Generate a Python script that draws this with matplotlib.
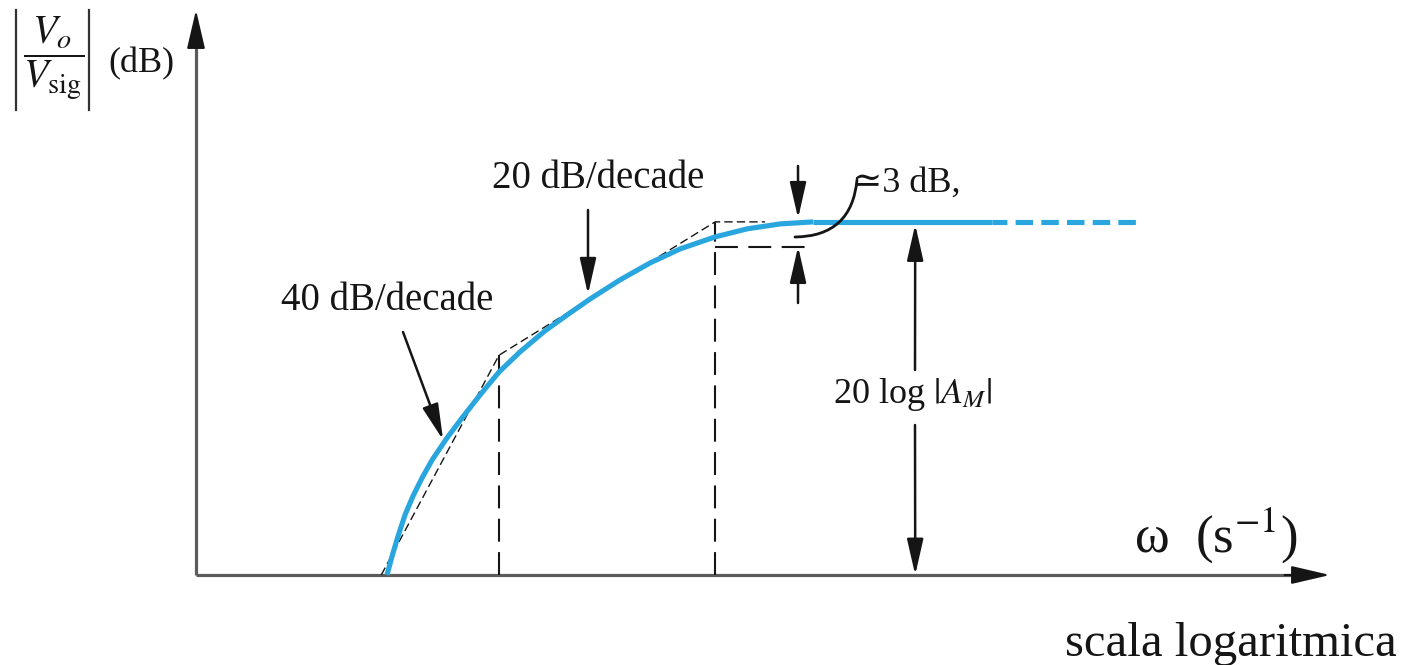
import matplotlib
matplotlib.use("Agg")
import matplotlib.pyplot as plt
from matplotlib.lines import Line2D

# ---------------- data ----------------
# Bode magnitude, low-frequency side: omega (s^-1, log scale) vs |Vo/Vsig| (dB)
curve_w = [30.3, 32.0, 34.1, 36.7, 40.0, 44.0, 49.0, 57.4, 67.4, 81.7, 100, 125, 163, 213,
           264, 363, 500, 689, 1000, 1406, 2000, 2843]
curve_db = [0.0, 2.15, 4.42, 6.80, 8.95, 10.99, 13.03, 15.52, 17.79, 20.40, 23.0, 25.27, 27.65, 29.69,
            31.27, 33.43, 35.35, 36.94, 38.30, 39.21, 39.77, 40.0]
midband_db = 40.0
plateau_solid_w = [2843, 19000]
plateau_dash_w = [19000, 90000]
# straight-line (asymptotic) approximation
asym_w = [28.5, 100, 1000, 1700]
asym_db = [0.0, 24.9, 40.0, 40.0]
# pole frequencies (dashed verticals)
pole_w = [100, 1000]
pole_db = [24.9, 40.0]
# -3 dB reference line
minus3_w = [1000, 2600]
minus3_db = 37.2
# marker positions
w_3db_arrow = 2420
w_gain_arrow = 8430
w_slope20 = 258
db_slope20 = 31.8
w_slope40 = 55.1
db_slope40 = 15.3

labels = {
    "yfrac": r"$\dfrac{V_o}{V_{\mathrm{sig}}}$",
    "yunit": "(dB)",
    "xlabel": r"ω  (s$^{-1}$)",
    "scale": "scala logaritmica",
    "s40": "40 dB/decade",
    "s20": "20 dB/decade",
    "db3": "≃3 dB,",
    "gain": r"20 log $|A_M|$",
}

# ---------------- figure ----------------
W, H = 1420, 665
plt.rcParams["font.family"] = ["Liberation Serif", "DejaVu Serif"]
plt.rcParams["mathtext.fontset"] = "stix"
fig = plt.figure(figsize=(W / 100, H / 100), dpi=100)
fig.patch.set_facecolor("white")
ax = fig.add_axes([196 / W, 1 - 575 / H, (1330 - 196) / W, (575 - 10) / H])
ax.set_xscale("log")
ax.set_xlim(3.96, 7.0e5)
ax.set_ylim(0, 64.0)
ax.axis("off")

BLUE = "#2AA6DF"
INK = "#151515"
AXC = "#5c5c5c"

# axes with arrows
ax.plot([0, 0], [0, 0.985], transform=ax.transAxes, color=AXC, lw=2.3, clip_on=False, solid_capstyle="butt")
ax.plot([0, 0.985], [0, 0], transform=ax.transAxes, color=AXC, lw=2.3, clip_on=False, solid_capstyle="butt")
hd = dict(arrowstyle="-|>,head_length=1.2,head_width=0.28", color=INK, lw=1.5, shrinkA=0, shrinkB=0, mutation_scale=20)
ax.annotate("", xy=(0, 1.0), xytext=(0, 0.94), xycoords="axes fraction", arrowprops=hd)
ax.annotate("", xy=(1.0, 0), xytext=(0.96, 0), xycoords="axes fraction", arrowprops=hd)

# asymptotes and dashed guides
dash = (0, (11, 5))
ax.plot(asym_w, asym_db, color=INK, lw=1.0, ls=(0, (6, 3)), clip_on=False, zorder=2)
for w, d in zip(pole_w, pole_db):
    ax.plot([w, w], [0, d], color=INK, lw=1.5, ls=dash, clip_on=False, zorder=2)
ax.plot(minus3_w, [minus3_db, minus3_db], color=INK, lw=1.5, ls=dash, zorder=2)

# response curve
ax.plot(curve_w, curve_db, color=BLUE, lw=3.7, solid_capstyle="butt", solid_joinstyle="round", zorder=3, clip_on=False)
ax.plot(plateau_solid_w, [midband_db] * 2, color=BLUE, lw=3.7, solid_capstyle="butt", zorder=3)
ax.plot(plateau_dash_w, [midband_db] * 2, color=BLUE, lw=3.7, ls=(0.5, (3.4, 1.6)), dash_capstyle="butt", zorder=3)

# annotation arrows
ap = dict(arrowstyle="-|>,head_length=1.1,head_width=0.25", color=INK, lw=1.8, shrinkA=0, shrinkB=0, mutation_scale=20)
ax.annotate("", xy=(w_slope20, db_slope20), xytext=(588, H - 210), textcoords="figure pixels", arrowprops=ap)
ax.annotate("", xy=(w_slope40, db_slope40), xytext=(403, H - 332), textcoords="figure pixels", arrowprops=ap)
ax.annotate("", xy=(w_3db_arrow, midband_db + 0.4), xytext=(798, H - 166), textcoords="figure pixels", arrowprops=ap)
ax.annotate("", xy=(w_3db_arrow, minus3_db), xytext=(798, H - 303), textcoords="figure pixels", arrowprops=ap)
ax.annotate("", xy=(w_gain_arrow, midband_db - 0.3), xytext=(915, H - 370), textcoords="figure pixels", arrowprops=ap)
ax.annotate("", xy=(w_gain_arrow, 0), xytext=(915, H - 425), textcoords="figure pixels", arrowprops=ap)
# curved leader for the 3 dB label
ax.annotate("", xy=(857, H - 180), xycoords="figure pixels", xytext=(795, H - 237), textcoords="figure pixels",
            arrowprops=dict(arrowstyle="-", color=INK, lw=2.0, shrinkA=0, shrinkB=0,
                            connectionstyle="arc3,rad=0.45"))

# texts
def T(px, py, s, size, ha="center", va="baseline"):
    fig.text(px / W, 1 - py / H, s, fontsize=size, ha=ha, va=va, color=INK)

# y-axis label: |Vo / Vsig| (dB)
T(54, 58, labels["yfrac"], 29, va="center")
for bx in (16, 89):
    fig.add_artist(Line2D([bx / W, bx / W], [1 - 10 / H, 1 - 110 / H], color="#333333", lw=1.6))
T(141, 72, labels["yunit"], 26)

T(387, 310, labels["s40"], 28)
T(598, 188, labels["s20"], 28)
T(852, 192, labels["db3"], 26, ha="left")
T(913, 403, labels["gain"], 26)
T(1216, 552, labels["xlabel"], 38)
T(1231, 656, labels["scale"], 35)

fig.savefig("out.png", dpi=100, facecolor="white")
